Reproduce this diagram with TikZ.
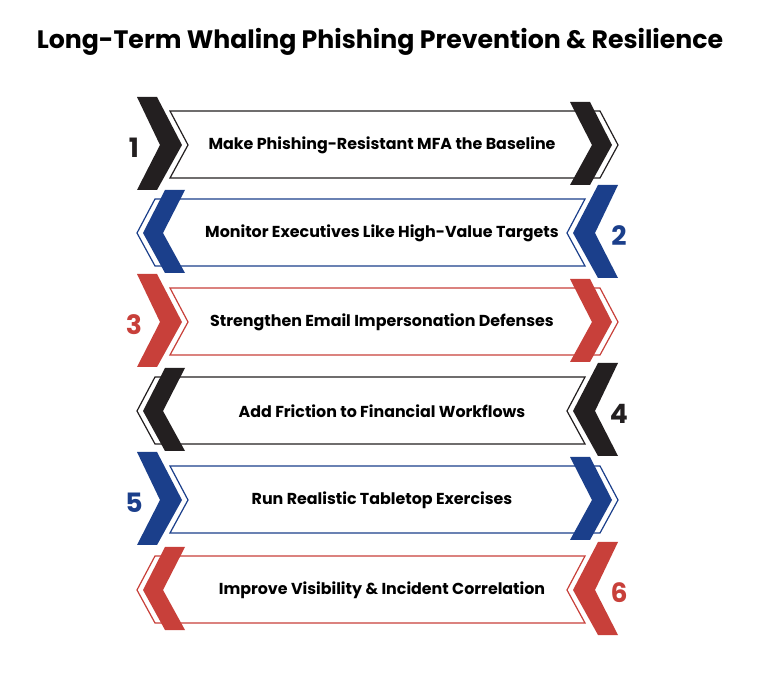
\documentclass[tikz,border=0pt]{standalone}
\usepackage{fontspec}
\setmainfont{Poppins}
\definecolor{cblack}{HTML}{231F20}
\definecolor{cblue}{HTML}{1B3F8B}
\definecolor{cred}{HTML}{C8403A}
\begin{document}
\begin{tikzpicture}[x=0.75pt,y=-0.75pt,
  lbl/.style={font=\fontsize{11.9}{14}\selectfont\bfseries, text=black},
  num/.style={font=\fontsize{20}{23}\selectfont\bfseries},
  outl/.style={line width=0.9pt, fill=white, line join=miter}]
\useasboundingbox (0,0) rectangle (768,673);
\node[font=\fontsize{18.9}{22}\selectfont\bfseries] (title) at (380,42) {Long-Term Whaling Phishing Prevention \& Resilience};
\newcommand{\rrow}[5]{%
  \draw[outl,draw=#2] (170,#1-34) -- (600,#1-34) -- (618,#1) -- (600,#1+33) -- (170,#1+33) -- (188,#1) -- cycle;
  \fill[#2] (137,#1-48) -- (157,#1-48) -- (182,#1) -- (157,#1+45) -- (137,#1+45) -- (160,#1) -- cycle;
  \fill[#2] (570,#1-43) -- (590,#1-43) -- (612,#1) -- (590,#1+40) -- (570,#1+40) -- (592,#1) -- cycle;
  \node[num,text=#2] (n#5) at (134,#1+3) {#3};
  \node[lbl] (t#5) at (382,#1) {#4};
}
\newcommand{\lrow}[5]{%
  \draw[outl,draw=#2] (585,#1-34) -- (155,#1-34) -- (137,#1) -- (155,#1+33) -- (585,#1+33) -- (567,#1) -- cycle;
  \fill[#2] (618,#1-48) -- (598,#1-48) -- (573,#1) -- (598,#1+45) -- (618,#1+45) -- (595,#1) -- cycle;
  \fill[#2] (185,#1-43) -- (165,#1-43) -- (143,#1) -- (165,#1+40) -- (185,#1+40) -- (163,#1) -- cycle;
  \node[num,text=#2] (n#5) at (619,#1+3) {#3};
  \node[lbl] (t#5) at (382,#1) {#4};
}
\rrow{145}{cblack}{1}{Make Phishing-Resistant MFA the Baseline}{a}
\lrow{233}{cblue}{2}{Monitor Executives Like High-Value Targets}{b}
\rrow{322}{cred}{3}{Strengthen Email Impersonation Defenses}{c}
\lrow{411}{cblack}{4}{Add Friction to Financial Workflows}{d}
\rrow{500}{cblue}{5}{Run Realistic Tabletop Exercises}{e}
\lrow{590}{cred}{6}{Improve Visibility \& Incident Correlation}{f}
\end{tikzpicture}
\end{document}
